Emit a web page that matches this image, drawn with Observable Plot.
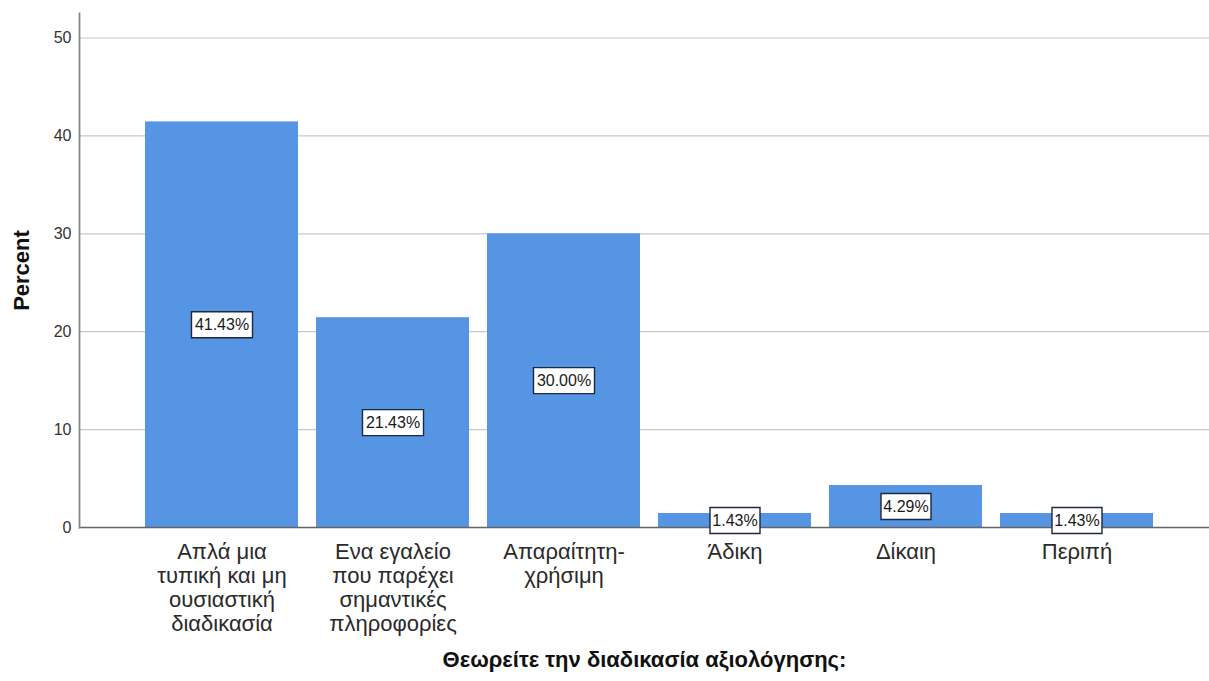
<!DOCTYPE html>
<html>
<head>
<meta charset="utf-8">
<script src="https://cdn.jsdelivr.net/npm/d3@7"></script>
<script src="https://cdn.jsdelivr.net/npm/@observablehq/plot@0.6"></script>
<style>
  html, body { margin: 0; padding: 0; background: #fff; }
  #chart { width: 1209px; height: 681px; }
  svg { font-family: "Liberation Sans", Arial, sans-serif; }
</style>
</head>
<body>
<div id="chart"></div>
<script>
// Answers to "Θεωρείτε την διαδικασία αξιολόγησης:" (percent of respondents)
const categories = [
  "Απλά μια\nτυπική και μη\nουσιαστική\nδιαδικασία",
  "Ενα εγαλείο\nπου παρέχει\nσημαντικές\nπληροφορίες",
  "Απαραίτητη-\nχρήσιμη",
  "Άδικη",
  "Δίκαιη",
  "Περιπή"
];
const percents = [41.43, 21.43, 30.00, 1.43, 4.29, 1.43];
const yTicks = [0, 10, 20, 30, 40, 50];
const xTitle = "Θεωρείτε την διαδικασία αξιολόγησης:";
const yTitle = "Percent";

const data = categories.map((c, i) => ({category: c, value: percents[i]}));

// Rectangular frames drawn behind the value labels (wide for two-digit values)
const box = w => ({
  draw(context) {
    context.rect(-w / 2, -13, w, 26);
  }
});
const wideBox = box(61);
const narrowBox = box(50);

const labelY = d => d.value / 2;

const chart = Plot.plot({
  width: 1209,
  height: 681,
  marginLeft: 79,
  marginRight: 0,
  marginTop: 13,
  marginBottom: 154,
  style: {fontFamily: "'Liberation Sans', Arial, sans-serif", background: "#fff"},
  x: {domain: categories, range: [127, 1171], padding: 0.105, label: null},
  y: {domain: [0, 52.5], label: null},
  marks: [
    Plot.ruleY(yTicks.filter(t => t > 0), {stroke: "#c8c8c8", strokeWidth: 1.2}),
    Plot.barY(data, {x: "category", y: "value", fill: "#5595e3"}),
    Plot.ruleY([0], {stroke: "#666", strokeWidth: 1.5}),
    Plot.frame({anchor: "left", stroke: "#888", strokeWidth: 1.8}),
    Plot.axisY({ticks: yTicks, tickSize: 0, tickPadding: 8, fontSize: 16, color: "#333", label: null}),
    Plot.axisX({
      tickSize: 0,
      tickPadding: 14,
      fontSize: 22,
      lineHeight: 1.1,
      color: "#2a2a2a",
      label: null,
      textAnchor: "middle"
    }),
    Plot.dot(data, {
      filter: d => d.value >= 10,
      x: "category",
      y: labelY,
      symbol: wideBox,
      fill: "white",
      stroke: "#1c2840",
      strokeWidth: 1.4
    }),
    Plot.dot(data, {
      filter: d => d.value < 10,
      x: "category",
      y: labelY,
      symbol: narrowBox,
      fill: "white",
      stroke: "#1c2840",
      strokeWidth: 1.4
    }),
    Plot.text(data, {
      x: "category",
      y: labelY,
      text: d => d.value.toFixed(2) + "%",
      fontSize: 16,
      fill: "#1a1a1a"
    }),
    Plot.text([xTitle], {
      frameAnchor: "bottom",
      dy: 139,
      fontSize: 22,
      fontWeight: "bold",
      fill: "#111",
      text: d => d
    }),
    Plot.text([yTitle], {
      frameAnchor: "left",
      textAnchor: "middle",
      dx: -58,
      rotate: -90,
      fontSize: 22,
      fontWeight: "bold",
      fill: "#111",
      text: d => d
    })
  ]
});

document.getElementById("chart").append(chart);
</script>
</body>
</html>
